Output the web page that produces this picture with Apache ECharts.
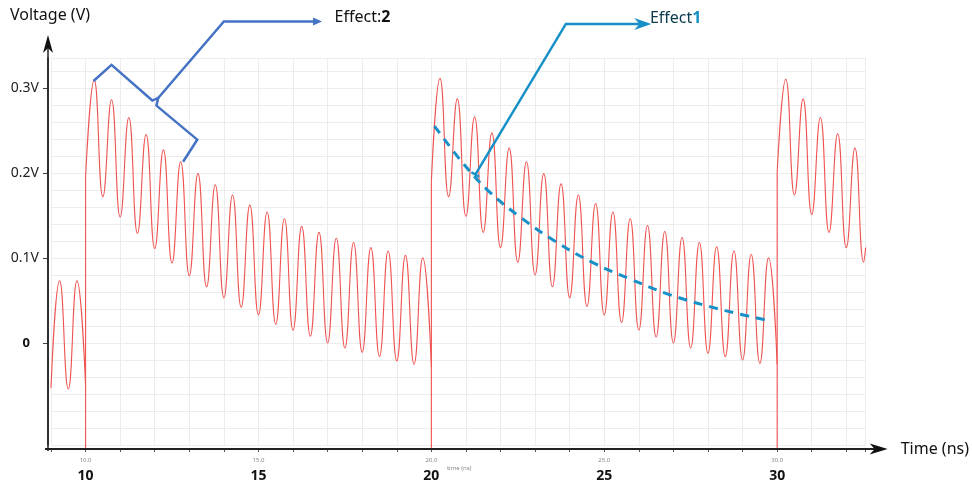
<!DOCTYPE html>
<html>
<head>
<meta charset="utf-8">
<script src="https://cdn.jsdelivr.net/npm/echarts@6/dist/echarts.min.js"></script>
<style>
  html, body { margin: 0; padding: 0; background: #fff; }
  #chart { width: 972px; height: 484px; }
</style>
</head>
<body>
<div id="chart"></div>
<script>
// ---- data (time in ns, voltage in V) ----
const leadTimes = [9.0, 9.25, 9.5, 9.75, 10.0]
const leadVolts = [-0.053, 0.073, -0.054, 0.073, -0.05]

// every pulse: edge time, level right after the edge, ringing peaks and troughs (half period apart)
const pulseStart = [10, 20, 30]
const pulseEdgeTop = [0.195, 0.19, 0.2]
const pulsePeaks = [
  [0.309, 0.286, 0.265, 0.245, 0.227, 0.213, 0.199, 0.186, 0.174, 0.162,
   0.154, 0.146, 0.137, 0.130, 0.123, 0.118, 0.112, 0.108, 0.103, 0.100],
  [0.311, 0.287, 0.266, 0.247, 0.229, 0.213, 0.199, 0.187, 0.174, 0.164,
   0.154, 0.146, 0.138, 0.131, 0.124, 0.118, 0.113, 0.108, 0.104, 0.100],
  [0.310, 0.287, 0.265, 0.246, 0.229],
]
const pulseTroughs = [
  [0.172, 0.148, 0.129, 0.111, 0.094, 0.079, 0.066, 0.053, 0.042, 0.033,
   0.022, 0.015, 0.008, 0.000, -0.006, -0.011, -0.016, -0.021, -0.025],
  [0.172, 0.149, 0.130, 0.112, 0.095, 0.080, 0.066, 0.053, 0.043, 0.033,
   0.024, 0.015, 0.007, 0.000, -0.006, -0.012, -0.016, -0.020, -0.024],
  [0.174, 0.151, 0.130, 0.112, 0.095],
]
const pulseEndTime = [20.0, 30.0, 32.56]
const pulseEndVolt = [-0.028, -0.025, 0.112]
const edgeLow = -0.125
const RING_HALF = 0.25

// Effect 1: dashed decay trend over the second pulse
const trendTimes = [20.09, 20.9, 21.67, 22.6, 23.6, 24.64, 25.7, 26.95, 28.5, 29.8]
const trendVolts = [0.255, 0.212, 0.178, 0.147, 0.119, 0.095, 0.076, 0.056, 0.038, 0.026]

// ticks / labels
const xTickValues = [10, 15, 20, 25, 30]
const yTickValues = [0, 0.1, 0.2, 0.3]

// annotation paths (data space)
const effect2Brace = [[10.23, 0.308], [10.75, 0.327], [11.93, 0.285], [12.1, 0.288], [12.05, 0.279], [13.23, 0.239], [12.82, 0.213]]
const effect2Leader = [[12.1, 0.288], [14.0, 0.378], [16.78, 0.378]]
const effect1Leader = [[21.27, 0.198], [23.89, 0.375], [26.36, 0.375]]
const effect2LabelAt = [17.2, 0.383]
const effect1LabelAt = [26.32, 0.381]

const X_MIN = 9
const X_MAX = 32.56
const Y_MIN = -0.12
const Y_MAX = 0.335

const RED = '#ef5350'
const BLUE1 = '#1790c8'
const BLUE2 = '#4472c4'
const GRID = '#ececec'
const FONT = 'Noto Sans'

const pulseData = (p) => {
  const t0 = pulseStart[p]
  const pts = [[t0, pulseEdgeTop[p]]]
  pulsePeaks[p].forEach((v, i) => {
    pts.push([t0 + RING_HALF * (2 * i + 1), v])
    if (i < pulseTroughs[p].length) pts.push([t0 + RING_HALF * (2 * i + 2), pulseTroughs[p][i]])
  })
  pts.push([pulseEndTime[p], pulseEndVolt[p]])
  return pts
}

const edgeFrom = [leadVolts[leadVolts.length - 1], pulseEndVolt[0], pulseEndVolt[1]]

const ringSeries = [leadTimes.map((t, i) => [t, leadVolts[i]])]
  .concat(pulseStart.map((_, p) => pulseData(p)))
  .map(data => ({
    type: 'line',
    data,
    smooth: 0.5,
    symbol: 'none',
    clip: false,
    lineStyle: { color: RED, width: 1.1 },
  }))

const edgeSeries = pulseStart.map((t0, p) => ({
  type: 'line',
  data: [[t0, edgeFrom[p]], [t0, edgeLow], [t0, pulseEdgeTop[p]]],
  symbol: 'none',
  clip: false,
  lineStyle: { color: RED, width: 1.1 },
}))

const chart = echarts.init(document.getElementById('chart'))

chart.setOption({
  animation: false,
  backgroundColor: '#fff',
  grid: { left: 51, right: 104, top: 58, bottom: 39 },
  xAxis: {
    type: 'value',
    min: X_MIN,
    max: X_MAX,
    interval: 1,
    offset: 4,
    name: 'Time (ns)',
    nameLocation: 'end',
    nameGap: 35,
    nameTextStyle: { fontFamily: FONT, fontSize: 16, color: '#111', verticalAlign: 'middle' },
    axisLine: { show: true, onZero: false, lineStyle: { color: '#222', width: 2 } },
    axisTick: { show: true, length: 3, lineStyle: { color: '#555' } },
    axisLabel: {
      customValues: xTickValues,
      margin: 6,
      formatter: v => `{s|${v.toFixed(1)}}\n{b|${v}}`,
      rich: {
        s: { fontFamily: FONT, fontSize: 6, color: '#888', lineHeight: 10, align: 'center' },
        b: { fontFamily: FONT, fontSize: 14, fontWeight: 'bold', color: '#111', lineHeight: 22, align: 'center' },
      },
    },
    splitLine: { show: true, lineStyle: { color: GRID, width: 1 } },
  },
  yAxis: [
    {
      // grid lines every 0.02 V
      type: 'value',
      min: Y_MIN,
      max: Y_MAX,
      interval: 0.02,
      axisLine: { show: false },
      axisTick: { show: false },
      axisLabel: { show: false },
      splitLine: { show: true, lineStyle: { color: GRID, width: 1 } },
    },
    {
      // the visible voltage axis
      type: 'value',
      position: 'left',
      min: Y_MIN,
      max: Y_MAX,
      offset: 3,
      name: 'Voltage (V)',
      nameLocation: 'end',
      nameGap: 35,
      nameTextStyle: { fontFamily: FONT, fontSize: 16, color: '#111', align: 'center', padding: [0, 0, 0, 4] },
      axisLine: { show: true, onZero: false, lineStyle: { color: '#222', width: 1.5 } },
      axisTick: { show: true, customValues: yTickValues, length: 5, lineStyle: { color: '#444' } },
      axisLabel: {
        customValues: yTickValues,
        margin: 9,
        fontFamily: FONT,
        fontSize: 14,
        color: '#222',
        formatter: v => (Math.abs(v) < 1e-9 ? '{z|0}' : `${v.toFixed(1)}V`),
        rich: {
          z: { fontFamily: FONT, fontSize: 13, fontWeight: 'bold', color: '#111', padding: [0, 9, 0, 0] },
        },
      },
      splitLine: { show: false },
    },
  ],
  series: [
    ...ringSeries,
    ...edgeSeries,
    {
      type: 'line',
      data: trendTimes.map((t, i) => [t, trendVolts[i]]),
      smooth: 0.4,
      symbol: 'none',
      lineStyle: { color: BLUE1, width: 3, type: [9, 7] },
    },
  ],
})

// ---- annotations and axis arrows, placed through the grid's own scales ----
const px = p => chart.convertToPixel({ gridIndex: 0 }, p)
const [gx0, gy0] = px([X_MIN, Y_MIN])
const [gx1, gy1] = px([X_MAX, Y_MAX])
const axisY = gy0 + 4
const axisX = gx0 - 3

const poly = (pts, color, width) => ({
  type: 'polyline',
  shape: { points: pts },
  style: { stroke: color, lineWidth: width, fill: null, lineJoin: 'miter' },
  z: 100,
})
const fillPoly = (pts, color) => ({
  type: 'polygon',
  shape: { points: pts },
  style: { fill: color, stroke: null },
  z: 100,
})

const brace = effect2Brace.map(px)
const lead2 = effect2Leader.map(px)
const lead1 = effect1Leader.map(px)
const tip2 = lead2[lead2.length - 1]
const tip1 = lead1[lead1.length - 1]
const s1 = lead1[0]
const dx = lead1[1][0] - s1[0], dy = lead1[1][1] - s1[1]
const len = Math.hypot(dx, dy)
const nx = -dy / len * 4.5, ny = dx / len * 4.5
const lab2 = px(effect2LabelAt)
const lab1 = px(effect1LabelAt)
const tinyLab = px([20.45, Y_MIN])

chart.setOption({
  graphic: [
    // axis extensions and arrow heads
    poly([[gx0 - 6, axisY], [gx1 + 14, axisY]], '#222', 2),
    fillPoly([[gx1 + 22, axisY], [gx1 + 4, axisY - 5.5], [gx1 + 9, axisY], [gx1 + 4, axisY + 5.5]], '#111'),
    poly([[axisX, axisY + 2], [axisX, gy1 - 16]], '#222', 1.5),
    fillPoly([[axisX, gy1 - 23], [axisX - 5, gy1 - 5], [axisX, gy1 - 10], [axisX + 5, gy1 - 5]], '#111'),
    {
      type: 'text', x: tinyLab[0], y: tinyLab[1] + 23, z: 100,
      style: { text: 'time (ns)', fontFamily: FONT, fontSize: 6, fill: '#888', verticalAlign: 'middle' },
    },
    // Effect 2
    poly(brace, BLUE2, 2.5),
    poly(lead2.slice(0, -1).concat([[tip2[0] - 6, tip2[1]]]), BLUE2, 2.5),
    fillPoly([[tip2[0] + 2, tip2[1]], [tip2[0] - 7, tip2[1] - 4], [tip2[0] - 7, tip2[1] + 4]], BLUE2),
    {
      type: 'text', x: lab2[0], y: lab2[1], z: 100,
      style: {
        text: '{a|Effect:}{b|2}',
        verticalAlign: 'middle',
        rich: {
          a: { fontFamily: FONT, fontSize: 16, fill: '#111' },
          b: { fontFamily: FONT, fontSize: 16, fontWeight: 'bold', fill: '#111' },
        },
      },
    },
    // Effect 1
    poly([[s1[0] - nx, s1[1] - ny], [s1[0] + nx, s1[1] + ny]], BLUE1, 2.5),
    poly(lead1.slice(0, -1).concat([[tip1[0] - 10, tip1[1]]]), BLUE1, 2.5),
    fillPoly([[tip1[0], tip1[1]], [tip1[0] - 17, tip1[1] - 6], [tip1[0] - 12, tip1[1]], [tip1[0] - 17, tip1[1] + 6]], BLUE1),
    {
      type: 'text', x: lab1[0], y: lab1[1], z: 101,
      style: {
        text: '{a|Effect}{b|1}',
        verticalAlign: 'middle',
        rich: {
          a: { fontFamily: FONT, fontSize: 16, fill: '#0c3a4d' },
          b: { fontFamily: FONT, fontSize: 16, fontWeight: 'bold', fill: BLUE1 },
        },
      },
    },
  ],
})
</script>
</body>
</html>
